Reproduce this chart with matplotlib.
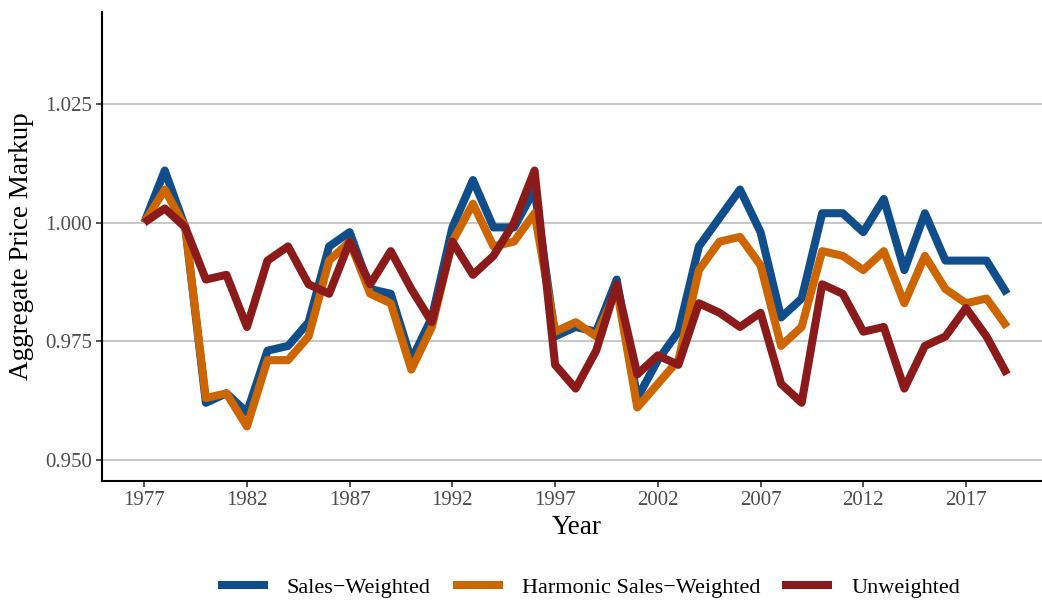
import matplotlib
matplotlib.use("Agg")
import matplotlib.pyplot as plt
import numpy as np

plt.rcParams['font.family'] = ['Liberation Serif', 'DejaVu Serif']

# Data
years = np.arange(1977, 2020)

sales_weighted = [1.000, 1.011, 0.999, 0.962, 0.964, 0.960, 0.973, 0.974, 0.979, 0.995,
                  0.998, 0.986, 0.985, 0.971, 0.980, 0.999, 1.009, 0.999, 0.999, 1.007,
                  0.976, 0.978, 0.977, 0.988, 0.963, 0.971, 0.977, 0.995, 1.001, 1.007,
                  0.998, 0.980, 0.984, 1.002, 1.002, 0.998, 1.005, 0.990, 1.002, 0.992,
                  0.992, 0.992, 0.985]

harmonic = [1.000, 1.007, 0.999, 0.963, 0.964, 0.957, 0.971, 0.971, 0.976, 0.992,
            0.996, 0.985, 0.983, 0.969, 0.978, 0.996, 1.004, 0.995, 0.996, 1.002,
            0.977, 0.979, 0.976, 0.986, 0.961, 0.966, 0.971, 0.990, 0.996, 0.997,
            0.991, 0.974, 0.978, 0.994, 0.993, 0.990, 0.994, 0.983, 0.993, 0.986,
            0.983, 0.984, 0.978]

unweighted = [1.000, 1.003, 0.999, 0.988, 0.989, 0.978, 0.992, 0.995, 0.987, 0.985,
              0.996, 0.987, 0.994, 0.986, 0.979, 0.996, 0.989, 0.993, 1.000, 1.011,
              0.970, 0.965, 0.973, 0.987, 0.968, 0.972, 0.970, 0.983, 0.981, 0.978,
              0.981, 0.966, 0.962, 0.987, 0.985, 0.977, 0.978, 0.965, 0.974, 0.976,
              0.982, 0.976, 0.968]

labels = ["Sales\u2212Weighted", "Harmonic Sales\u2212Weighted", "Unweighted"]
colors = ["#104E8B", "#CD6600", "#8B1A1A"]

xticks = np.arange(1977, 2018, 5)
yticks = [0.950, 0.975, 1.000, 1.025]

fig = plt.figure(figsize=(10.42, 6.04), dpi=100)
ax = fig.add_axes([101.5 / 1042, 1 - 481 / 604, 1 - 101.5 / 1042, (481 - 12) / 604])

for series, lab, col in zip([sales_weighted, harmonic, unweighted], labels, colors):
    ax.plot(years, series, color=col, lw=5.8, label=lab,
            solid_joinstyle='round', solid_capstyle='butt')

ax.set_xlim(1974.92, 2020.70)
ax.set_ylim(0.9455, 1.04445)
ax.set_xticks(xticks)
ax.set_yticks(yticks)
ax.set_yticklabels([f"{v:.3f}" for v in yticks])

ax.grid(axis='y', color='#bebebe', lw=1.2)
ax.set_axisbelow(True)
for side in ['top', 'right']:
    ax.spines[side].set_visible(False)
for side in ['left', 'bottom']:
    ax.spines[side].set_linewidth(1.5)
    ax.spines[side].set_color('black')

ax.tick_params(axis='both', labelsize=15, labelcolor='#4d4d4d', color='#333333',
               length=4, width=1.2, pad=3)

ax.set_xlabel("Year", fontsize=19.5)
ax.set_ylabel("Aggregate Price Markup", fontsize=19.5)
ax.xaxis.label.set_va('center')
ax.yaxis.label.set_va('center')
ax.xaxis.set_label_coords((577 - 101.5) / 940.5, -(527 - 481) / 469)
ax.yaxis.set_label_coords(-(101.5 - 22) / 940.5, (481 - 246) / 469)

handles, lbls = ax.get_legend_handles_labels()
fig.legend(handles, lbls, loc='center', bbox_to_anchor=(589 / 1042, 1 - 588 / 604),
           ncol=3, frameon=False, fontsize=16, handlelength=2.25, handletextpad=0.85,
           columnspacing=1.0)

fig.savefig("out.png", dpi=100)
